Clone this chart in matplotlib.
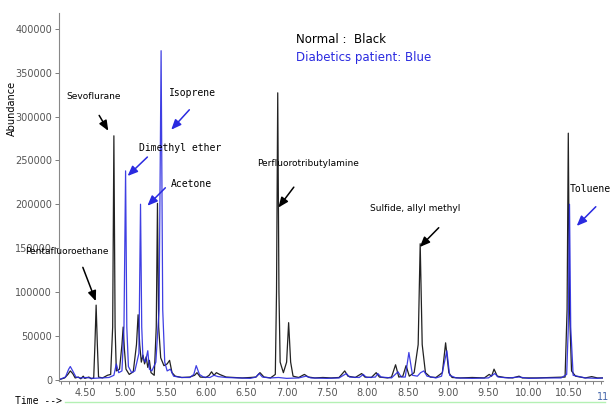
import matplotlib
matplotlib.use('Agg')
import matplotlib.pyplot as plt
from matplotlib.lines import Line2D
from matplotlib.ticker import MultipleLocator, FixedLocator

# 正常人 (黑色) 色谱轨迹顶点
normal_t = [4.18, 4.25, 4.29, 4.32, 4.35, 4.38, 4.42, 4.45, 4.48, 4.50, 4.55, 4.58, 4.61,
            4.625, 4.64, 4.655, 4.67, 4.72, 4.78, 4.82, 4.845, 4.86, 4.875, 4.89, 4.93, 4.96,
            4.975, 4.99, 5.01, 5.05, 5.10, 5.14, 5.16, 5.18, 5.20, 5.22, 5.24, 5.26, 5.28,
            5.30, 5.32, 5.36, 5.385, 5.40, 5.415, 5.44, 5.48, 5.52, 5.55, 5.58, 5.62, 5.70,
            5.80, 5.86, 5.89, 5.93, 6.00, 6.04, 6.07, 6.10, 6.13, 6.17, 6.25, 6.35, 6.45,
            6.55, 6.62, 6.67, 6.72, 6.80, 6.86, 6.875, 6.89, 6.905, 6.92, 6.96, 7.00, 7.025,
            7.05, 7.08, 7.15, 7.22, 7.27, 7.35, 7.45, 7.55, 7.65, 7.72, 7.76, 7.85, 7.93,
            7.97, 8.05, 8.11, 8.15, 8.25, 8.30, 8.35, 8.39, 8.44, 8.48, 8.52, 8.58, 8.63,
            8.655, 8.68, 8.72, 8.78, 8.85, 8.93, 8.97, 9.01, 9.05, 9.15, 9.30, 9.45, 9.51,
            9.54, 9.57, 9.61, 9.70, 9.80, 9.88, 9.92, 10.10, 10.30, 10.45, 10.475, 10.49,
            10.505, 10.53, 10.58, 10.70, 10.78, 10.85, 10.92]
normal_y = [0, 2000, 6000, 10000, 7000, 2000, 3000, 1000, 4000, 1500, 3000, 1000, 2000,
            40000, 85000, 40000, 3000, 2000, 5000, 6000, 60000, 278000, 60000, 10000, 12000, 40000,
            60000, 35000, 12000, 6000, 9000, 40000, 74000, 40000, 20000, 28000, 18000, 26000, 14000,
            22000, 8000, 5000, 60000, 201000, 60000, 25000, 16000, 18000, 22000, 8000, 4000, 2500,
            3000, 5000, 8000, 3000, 2500, 5000, 9000, 5000, 8000, 6000, 3000, 2500, 2000,
            2500, 3000, 8000, 3000, 2000, 6000, 100000, 327000, 100000, 20000, 8000, 20000, 65000,
            20000, 4000, 2500, 6000, 3000, 2000, 2500, 2000, 2500, 10000, 4000, 2500, 7000,
            3000, 2500, 8000, 3000, 2000, 3000, 17000, 3000, 4000, 16000, 4000, 8000, 40000,
            155000, 40000, 8000, 3000, 2500, 8000, 42000, 8000, 2500, 2000, 2500, 2000, 6000,
            4000, 12000, 4000, 2500, 2000, 4000, 2000, 2000, 2500, 3000, 80000, 281000,
            80000, 10000, 4000, 2000, 3500, 2000, 2000]

# 糖尿病患者 (蓝色) 色谱轨迹顶点
diabetic_t = [4.18, 4.26, 4.30, 4.32, 4.35, 4.39, 4.45, 4.52, 4.60, 4.70, 4.80, 4.86, 4.89,
              4.92, 4.96, 4.985, 5.005, 5.02, 5.04, 5.08, 5.12, 5.17, 5.19, 5.205, 5.22, 5.25,
              5.28, 5.30, 5.33, 5.38, 5.42, 5.445, 5.465, 5.49, 5.52, 5.56, 5.60, 5.70, 5.80,
              5.85, 5.88, 5.92, 5.97, 6.05, 6.10, 6.15, 6.25, 6.40, 6.55, 6.62, 6.66, 6.70,
              6.80, 6.90, 7.00, 7.15, 7.24, 7.30, 7.50, 7.65, 7.74, 7.78, 7.90, 7.95, 7.99,
              8.10, 8.13, 8.17, 8.30, 8.38, 8.42, 8.47, 8.515, 8.56, 8.62, 8.66, 8.70, 8.74,
              8.85, 8.92, 8.985, 9.02, 9.10, 9.30, 9.50, 9.58, 9.62, 9.75, 9.88, 10.00, 10.20,
              10.40, 10.47, 10.49, 10.505, 10.52, 10.55, 10.70, 10.85, 10.92]
diabetic_y = [0, 3000, 12000, 15000, 10000, 3000, 2000, 2500, 1500, 2000, 2500, 5000, 18000,
              8000, 10000, 60000, 238000, 60000, 15000, 8000, 10000, 30000, 200000, 60000, 25000, 20000,
              33000, 12000, 10000, 20000, 80000, 375000, 80000, 20000, 10000, 12000, 4000, 2500, 2500,
              6000, 16000, 6000, 3000, 2500, 5000, 3500, 2500, 2000, 1500, 3000, 7000, 3000,
              2000, 2500, 1500, 2000, 4000, 2000, 1500, 2000, 7000, 3000, 2500, 6000, 2500,
              3000, 7000, 3000, 2000, 9000, 3000, 3000, 31000, 5000, 4000, 8000, 10000, 4000,
              2000, 4000, 33000, 5000, 2000, 1500, 2000, 7000, 3000, 2000, 3000, 1500, 2000,
              2000, 6000, 60000, 200000, 60000, 5000, 2000, 1500, 2000]

x_ticks = [4.5, 5.0, 5.5, 6.0, 6.5, 7.0, 7.5, 8.0, 8.5, 9.0, 9.5, 10.0, 10.5]
y_ticks = [0, 50000, 100000, 150000, 200000, 250000, 300000, 350000, 400000]

BLUE = '#2a2ae0'
GRAY = '#555555'

fig = plt.figure(figsize=(6.14, 4.05), dpi=100)
ax = fig.add_axes([59/614, 24/405, 544/614, 368/405])

ax.plot(normal_t, normal_y, color='#222222', lw=0.9)
ax.plot(diabetic_t, diabetic_y, color=BLUE, lw=0.9, alpha=0.9)

ax.set_xlim(4.18, 10.92)
ax.set_ylim(-1500, 418000)

for s in ['top', 'right']:
    ax.spines[s].set_visible(False)
for s in ['left', 'bottom']:
    ax.spines[s].set_color('#888888')
    ax.spines[s].set_linewidth(0.8)

ax.xaxis.set_major_locator(FixedLocator(x_ticks))
ax.set_xticklabels(['%.2f' % v for v in x_ticks])
ax.xaxis.set_minor_locator(MultipleLocator(0.1))
ax.yaxis.set_major_locator(FixedLocator(y_ticks))
ax.set_yticklabels([str(v) for v in y_ticks])
ax.tick_params(axis='both', labelsize=7, labelcolor=GRAY, color='#666666', width=0.6, length=3, pad=2)
ax.tick_params(axis='x', which='minor', length=2, width=0.6, color='#666666')
ax.text(10.92, -14000, '11', fontsize=7, color='#4466aa', ha='center', va='top', clip_on=False)

# 标签
fig.text(12/614, 1 - 108/405, 'Abundance', rotation=90, fontsize=7, ha='center', va='center')
fig.text(15/614, 1 - 401/405, 'Time -->', fontsize=7, family='DejaVu Sans Mono', va='center')
fig.add_artist(Line2D([65/614, 605/614], [3/405, 3/405], color='#b4f0b4', lw=1))

ax.text(0.436, 0.927, 'Normal :  Black', transform=ax.transAxes, fontsize=8.5, va='center')
ax.text(0.436, 0.880, 'Diabetics patient: Blue', transform=ax.transAxes, fontsize=8.5,
        va='center', color=BLUE)

# 注释箭头
def note(txt, txy, tail, head, color, mono=False):
    ax.text(txy[0], txy[1], txt, fontsize=7 if mono else 6.5, va='center', ha='left',
            clip_on=False, family='DejaVu Sans Mono' if mono else 'DejaVu Sans')
    ax.annotate('', xy=head, xytext=tail,
                arrowprops=dict(arrowstyle='-|>,head_length=0.6,head_width=0.25',
                                color=color, lw=1.1))

note('Sevoflurane', (4.266, 322500), (4.66, 304000), (4.808, 281000), 'black')
note('Isoprene', (5.547, 327000), (5.818, 310000), (5.547, 282600), BLUE, mono=True)
note('Dimethyl ether', (5.177, 264000), (5.30, 256000), (5.005, 230000), BLUE, mono=True)
note('Acetone', (5.571, 223000), (5.522, 221000), (5.251, 196000), BLUE, mono=True)
note('Pentafluoroethane', (3.761, 146000), (4.463, 131000), (4.648, 86600), 'black')
note('Perfluorotributylamine', (6.63, 246000), (7.11, 222000), (6.877, 193700), 'black')
note('Sulfide, allyl methyl', (8.034, 195000), (8.909, 175500), (8.626, 149000), 'black')
note('Toluene', (10.51, 217700), (10.855, 199400), (10.57, 173000), BLUE, mono=True)

fig.savefig('out.png', dpi=100)
